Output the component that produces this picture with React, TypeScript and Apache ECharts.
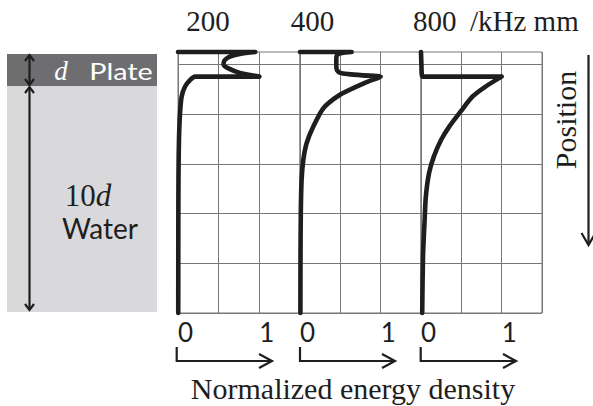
import React, { useEffect, useRef } from "react";
import * as echarts from "echarts";

// Frequency-thickness products (panel titles)
const frequencies = ["200", "400", "800"];
const unitLabel = "/kHz mm";
const xTickValues = [0, 1];
const xAxisTitle = "Normalized energy density";
const yAxisTitle = "Position";

// Position in units of plate thickness d (0 = top surface, 1 = plate/water boundary)
// Panel 200 kHz mm
const pos200 = [0, 0, 0.08, 0.2, 0.35, 0.5, 0.66, 0.84, 0.99, 0.99, 1.12, 1.39, 1.79, 2.46, 3.53, 5.0, 7.0, 10.5];
const energy200 = [0, 0.95, 0.76, 0.63, 0.57, 0.56, 0.62, 0.76, 1.0, 0.21, 0.15, 0.087, 0.045, 0.025, 0.012, 0.006, 0.004, 0.003];
// Panel 400 kHz mm
const pos400 = [0, 0, 0.04, 0.12, 0.3, 0.55, 0.74, 0.84, 0.89, 0.94, 0.99, 1.18, 1.39, 1.73, 2.26, 3.0, 3.67, 4.34, 5.14, 6.48, 8.5, 10.5];
const energy400 = [0, 0.64, 0.52, 0.46, 0.45, 0.45, 0.46, 0.5, 0.6, 0.78, 1.0, 0.85, 0.7, 0.49, 0.29, 0.165, 0.082, 0.041, 0.02, 0.01, 0.006, 0.005];
// Panel 800 kHz mm
const pos800 = [0, 0.5, 0.92, 0.99, 0.99, 1.39, 1.79, 2.4, 3.0, 3.53, 4.2, 4.87, 5.81, 6.75, 8.2, 10.5];
const energy800 = [0, 0.005, 0.01, 0.02, 1.0, 0.8, 0.64, 0.49, 0.35, 0.25, 0.16, 0.1, 0.06, 0.045, 0.025, 0.015];

const positions = [pos200, pos400, pos800];
const energies = [energy200, energy400, energy800];

const GRID_LEFTS = [178, 300, 421];
const GRID_WIDTHS = [122, 121, 121];
const GRID_TOP = 52;
const GRID_HEIGHT = 261;
const GRID_COLOR = "#777";
const INK = "#1e1e1e";
const SERIF = "'Liberation Serif', 'DejaVu Serif', serif";
const SANS = "Lato, 'Open Sans', sans-serif";

function chevron(x: number, y: number, dir: "up" | "down" | "right", w: number, h: number) {
  let pts: number[][];
  if (dir === "up") pts = [[x - w, y + h], [x, y], [x + w, y + h]];
  else if (dir === "down") pts = [[x - w, y - h], [x, y], [x + w, y - h]];
  else pts = [[x - h, y - w], [x, y], [x - h, y + w]];
  return {
    type: "polyline",
    shape: { points: pts },
    style: { stroke: INK, lineWidth: 2.2, fill: null, lineJoin: "miter" },
    z: 10,
  };
}

function line(pts: number[][], lw = 2.2) {
  return {
    type: "polyline",
    shape: { points: pts },
    style: { stroke: INK, lineWidth: lw, fill: null },
    z: 10,
  };
}

function text(t: string, x: number, y: number, font: string, extra: any = {}) {
  return {
    type: "text",
    x,
    y,
    z: 12,
    ...extra,
    style: {
      text: t,
      font,
      fill: extra.fill || INK,
      align: extra.align || "center",
      verticalAlign: "middle",
      textAlign: extra.align || "center",
      textVerticalAlign: "middle",
      rich: extra.rich,
    },
  };
}

export default function App() {
  const ref = useRef<HTMLDivElement>(null);

  useEffect(() => {
    if (!ref.current) return;
    const chart = echarts.init(ref.current, undefined, { renderer: "svg" });

    const grids = GRID_LEFTS.map((left, i) => ({
      left,
      top: GRID_TOP,
      width: GRID_WIDTHS[i],
      height: GRID_HEIGHT,
      show: true,
      borderColor: GRID_COLOR,
      borderWidth: 1,
      backgroundColor: "transparent",
      containLabel: false,
    }));

    const xAxes = GRID_LEFTS.map((_, i) => ({
      type: "value",
      gridIndex: i,
      min: 0,
      max: 1.5,
      interval: 0.5,
      axisLine: { show: false },
      axisTick: { show: false },
      splitLine: { show: true, lineStyle: { color: GRID_COLOR, width: 1 } },
      axisLabel: {
        show: true,
        margin: 6,
        align: "left",
        fontFamily: SANS,
        fontSize: 26,
        color: INK,
        formatter: (v: number) => (xTickValues.indexOf(v) >= 0 ? String(v) : ""),
      },
    }));

    const yAxes = GRID_LEFTS.map((_, i) => ({
      type: "value",
      gridIndex: i,
      min: 0,
      max: 10.5,
      interval: 0.5,
      inverse: true,
      axisLine: { show: false },
      axisTick: { show: false },
      axisLabel: { show: false },
      splitLine: {
        show: true,
        lineStyle: { color: ["transparent", GRID_COLOR, "transparent", "transparent"], width: 1 },
      },
    }));

    const series = positions.map((pos, i) => ({
      type: "line",
      xAxisIndex: i,
      yAxisIndex: i,
      data: pos.map((p, k) => [energies[i][k], p]),
      showSymbol: false,
      symbol: "none",
      smooth: 0.25,
      clip: false,
      lineStyle: { color: INK, width: 4.6, cap: "round", join: "round" },
      z: 5,
    }));

    const graphic: any[] = [
      // plate / water schematic
      { type: "rect", shape: { x: 7, y: 54, width: 150, height: 32 }, style: { fill: "#6e6e70" }, z: 1 },
      { type: "rect", shape: { x: 7, y: 86, width: 150, height: 226 }, style: { fill: "#d9d9db" }, z: 1 },
      line([[29.5, 55], [29.5, 85]]),
      chevron(29.5, 55, "up", 4.5, 6),
      chevron(29.5, 85, "down", 4.5, 6),
      line([[29.5, 87], [29.5, 310]]),
      chevron(29.5, 87, "up", 4.5, 6),
      chevron(29.5, 310, "down", 4.5, 6),
      text("d", 61, 71, `italic 27px ${SERIF}`, { fill: "#ffffff" }),
      text("Plate", 121, 71, `23px ${SANS}`, { fill: "#ffffff", scaleX: 1.25 }),
      text("{a|10}{b|d}", 88, 195, `30px ${SERIF}`, {
        rich: {
          a: { font: `31px ${SERIF}`, fill: INK },
          b: { font: `italic 31px ${SERIF}`, fill: INK },
        },
      }),
      text("Water", 100, 228, `28px ${SANS}`),
      // titles
      text(frequencies[0], 208, 21, `29px ${SERIF}`),
      text(frequencies[1], 312.5, 21, `29px ${SERIF}`),
      text(frequencies[2], 413, 21, `29px ${SERIF}`, { align: "left" }),
      text(unitLabel, 470, 21, `29px ${SERIF}`, { align: "left" }),
      text(yAxisTitle, 565, 120, `30px ${SERIF}`, { rotation: Math.PI / 2 }),
      line([[588.5, 55], [588.5, 244]]),
      chevron(588.5, 245, "down", 7, 12),
      text(xAxisTitle, 353, 388, `30px ${SERIF}`),
    ];

    // bracket arrows beneath each panel
    const arrowStarts = [176.7, 300, 420.7];
    const arrowEnds = [272, 395, 516];
    arrowStarts.forEach((x0, i) => {
      graphic.push(line([[x0, 347], [x0, 361], [arrowEnds[i], 361]]));
      graphic.push(chevron(arrowEnds[i], 361, "right", 7, 13));
    });

    chart.setOption({
      animation: false,
      backgroundColor: "#ffffff",
      grid: grids,
      xAxis: xAxes,
      yAxis: yAxes,
      series,
      graphic,
    });

    return () => chart.dispose();
  }, []);

  return (
    <div
      ref={ref}
      style={{ position: "absolute", left: 0, top: 0, width: 593, height: 406, background: "#fff" }}
    />
  );
}
